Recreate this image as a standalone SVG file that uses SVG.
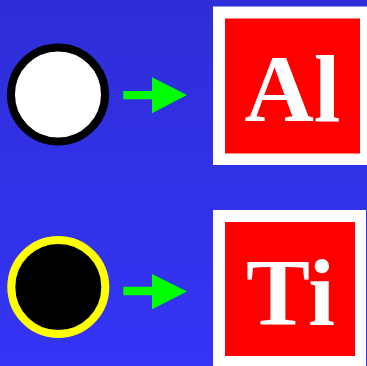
<svg xmlns="http://www.w3.org/2000/svg" width="367" height="366" viewBox="0 0 367 366">
  <defs>
    <linearGradient id="bg" x1="0" y1="0" x2="0" y2="1">
      <stop offset="0" stop-color="#2e2ed8"/>
      <stop offset="1" stop-color="#3434f6"/>
    </linearGradient>
    <style>
      .frame { fill: #ffffff; }
      .tile { fill: #ff0000; }
      .sym { fill: #ffffff; font-family: "Liberation Serif", "Times New Roman", serif; font-weight: bold; font-size: 96px; text-anchor: middle; }
      .arrow { fill: #00ff00; }
    </style>
  </defs>
  <rect x="0" y="0" width="367" height="366" fill="url(#bg)"/>
  <g id="atom-white">
    <circle cx="58" cy="94.5" r="47" fill="#ffffff" stroke="#000000" stroke-width="8"/>
  </g>
  <g id="atom-black">
    <circle cx="58.3" cy="287" r="47" fill="#000000" stroke="#ffff00" stroke-width="8"/>
  </g>
  <g id="box-al">
    <rect class="frame" x="213" y="6.5" width="160" height="158.5"/>
    <rect class="tile" x="225" y="18.5" width="135" height="135"/>
    <text class="sym" x="292.5" y="121">Al</text>
  </g>
  <g id="box-ti">
    <rect class="frame" x="213" y="210" width="153" height="160"/>
    <rect class="tile" x="225" y="222" width="130" height="134"/>
    <text class="sym" x="290.5" y="325">Ti</text>
  </g>
  <g id="connectors">
    <polygon class="arrow" points="123.3,91 152,91 152,77.3 187,95 152,113.3 152,99.3 123.3,99.3"/>
    <polygon class="arrow" points="123.3,286.7 152,286.7 152,274 187,291.5 152,309.3 152,295.3 123.3,295.3"/>
  </g>
</svg>
